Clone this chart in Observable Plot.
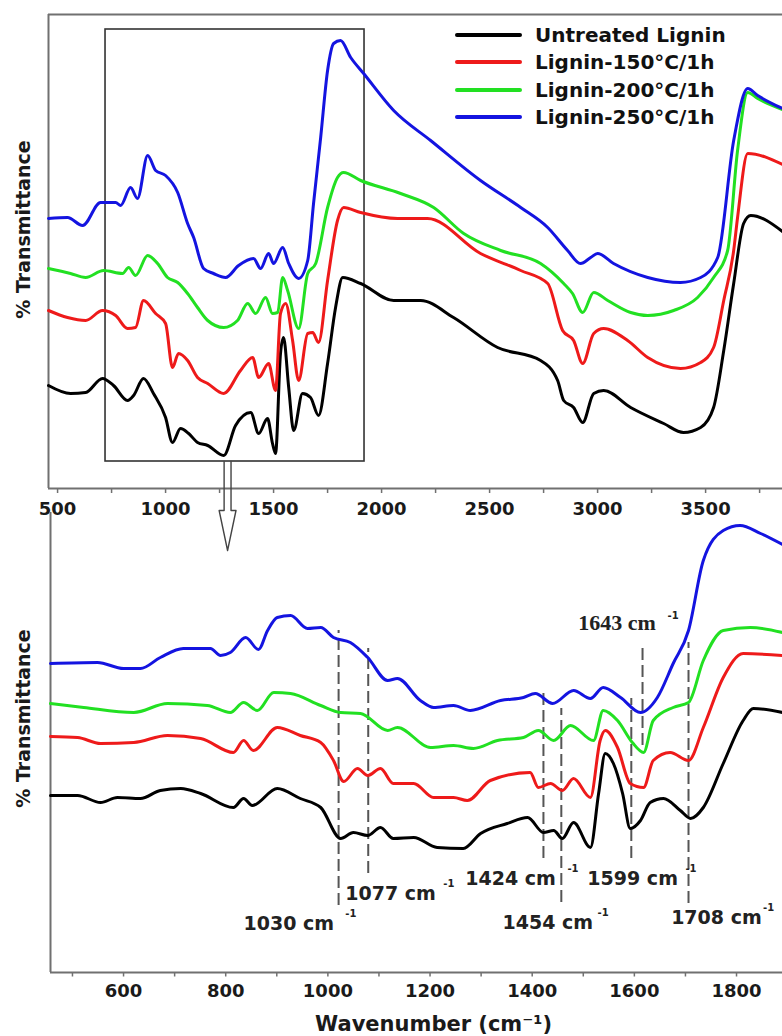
<!DOCTYPE html>
<html><head><meta charset="utf-8">
<script src="https://cdn.jsdelivr.net/npm/d3@7"></script>
<script src="https://cdn.jsdelivr.net/npm/@observablehq/plot@0.6"></script>
<style>
html,body{margin:0;padding:0;background:#fff;overflow:hidden;}
#fig{position:relative;width:782px;height:1036px;font-family:"DejaVu Sans",sans-serif;background:#fff;}
#fig svg{position:absolute;left:0;}
.row{position:absolute;left:455px;height:28px;display:flex;align-items:center;white-space:nowrap;}
.swatch{width:67px;height:4px;margin-right:13px;border-radius:2px;}
.lab{font-weight:bold;font-size:20px;color:#111;}
</style></head><body><div id="fig"></div>
<script>
// ---- series names / colours
const seriesNames = ["Untreated Lignin", "Lignin-150°C/1h", "Lignin-200°C/1h", "Lignin-250°C/1h"];
const seriesColors = ["#000000", "#ee1a1a", "#22e022", "#1414e0"];

// ---- top panel spectra: [wavenumber, transmittance (a.u.)]
const topUntreated = [[458,20.6],[560,19],[630,19.2],[708,22],[759,20.6],[824,17.6],[852,18.6],[898,22],[944,19],[1000,14.2],[1032,9.2],[1069,12],[1107,11],[1148,9.2],[1195,8.6],[1269,6.6],[1324,12.6],[1394,15.2],[1431,11],[1472,14],[1495,9],[1509,7],[1532,27],[1546,30.2],[1570,20.2],[1593,11.6],[1634,19],[1671,18.2],[1708,14.6],[1750,25],[1787,36.2],[1820,42.2],[1903,41],[2056,37.6],[2181,37.6],[2333,34.2],[2537,28.2],[2736,25.6],[2815,21.6],[2843,17.6],[2889,16.2],[2931,13.2],[2982,19],[3028,19.6],[3153,16.2],[3306,13],[3398,11.2],[3477,12.2],[3537,16.2],[3584,27.6],[3630,41],[3676,53],[3709,54.6],[3856,51.4]];
const top150 = [[458,35.6],[546,34.2],[630,33.6],[708,35.6],[769,34.6],[824,32],[861,32.2],[898,37.6],[954,35],[1000,33],[1032,24.2],[1060,27],[1102,25.6],[1148,22.2],[1195,21],[1269,19],[1347,23.6],[1403,26.2],[1431,22.2],[1477,25],[1509,19.6],[1532,35],[1556,37],[1588,29.6],[1616,21.6],[1658,31],[1681,31.2],[1708,29.2],[1750,41.6],[1796,53.6],[1824,56.2],[1903,55.2],[2074,54],[2213,54],[2458,47],[2644,43.6],[2769,41],[2838,31.6],[2889,29.6],[2931,25],[2982,31],[3028,32],[3139,29.6],[3232,26.2],[3384,24],[3477,25.2],[3537,28.2],[3584,37.6],[3630,47.6],[3648,54.2],[3695,67],[3856,64.8]];
const top200 = [[458,44],[560,43],[630,42.2],[713,43.6],[801,43],[829,44.2],[861,42.6],[917,46.6],[963,45],[1009,42.2],[1056,41.2],[1102,39],[1148,36.2],[1195,33.6],[1269,32.2],[1333,33.6],[1380,37],[1417,35],[1463,38.2],[1495,35],[1519,35.2],[1542,42.2],[1565,39.6],[1616,32],[1658,43],[1695,45],[1750,56.2],[1796,62.2],[1824,63.2],[1903,61.6],[2088,59],[2241,56.2],[2380,51],[2551,47.6],[2736,45],[2843,41],[2884,39],[2931,35.2],[2982,39.2],[3047,37.6],[3153,35.2],[3232,34.6],[3352,35.6],[3463,38.2],[3537,42.2],[3602,47.6],[3648,67.6],[3695,79.2],[3741,78],[3856,75.8]];
const top250 = [[458,54],[546,54.2],[616,52.6],[699,57.2],[769,57.2],[792,56.6],[838,60.2],[870,58],[917,66.6],[954,63.6],[1000,62.6],[1056,59.2],[1102,53],[1130,50.2],[1176,44],[1222,43],[1278,42.2],[1338,44.6],[1407,46],[1440,44],[1477,47],[1500,45],[1542,48.2],[1570,45],[1616,42],[1658,45.6],[1685,57],[1718,70.2],[1750,83.6],[1778,89],[1810,89.6],[1857,86.2],[1917,83],[2056,75.6],[2227,69.6],[2458,61.6],[2644,56.2],[2769,52.2],[2861,47.6],[2921,45],[2968,46.2],[3000,47],[3074,45],[3232,42.2],[3384,41.2],[3477,42.2],[3556,46.2],[3630,69.6],[3695,80],[3741,78.6],[3856,76]];

// ---- bottom panel (zoomed) spectra
const botUntreated = [[457,35.4],[510,35.4],[555,34],[588,35],[633,34.8],[672,36.4],[712,36.8],[751,35.8],[815,33],[835,34.8],[852,33.4],[901,36.8],[946,34.8],[986,33],[1025,26.8],[1050,28],[1078,27.4],[1103,29],[1128,26.8],[1168,27],[1214,25],[1265,24.8],[1299,27.8],[1351,29.8],[1391,31],[1422,28],[1442,28.4],[1459,26.8],[1481,30],[1514,25],[1530,35.8],[1543,43.8],[1559,41.8],[1577,35.8],[1592,28.8],[1612,30.4],[1631,34],[1657,34.8],[1690,32.4],[1710,30.8],[1735,33],[1774,41.8],[1813,50.4],[1833,52.8],[1890,52]];
const bot150 = [[457,47.2],[510,47],[555,45.8],[620,46],[686,47.4],[751,46.8],[815,44],[835,46.4],[854,44.4],[901,49],[946,47.4],[986,46],[1011,42.4],[1031,38.2],[1058,40.8],[1078,39.4],[1103,40.8],[1128,37.8],[1168,37.8],[1207,35],[1246,35],[1273,34.4],[1318,38.4],[1396,40],[1412,37],[1436,37.8],[1459,36.4],[1481,38.8],[1514,35],[1533,46.4],[1543,48.4],[1567,45],[1592,37.8],[1618,37],[1637,42.4],[1670,44],[1706,42.4],[1735,49],[1774,59],[1813,63.8],[1890,63.4]];
const bot200 = [[457,53.8],[522,53],[620,52],[686,53.8],[764,53.4],[809,52],[835,54],[862,52.4],[894,56],[927,55.8],[986,53.4],[1025,52],[1064,51.8],[1117,48.4],[1136,49],[1201,45],[1246,45.4],[1285,44.8],[1332,46.4],[1383,47],[1412,48.4],[1442,46.4],[1475,49.4],[1520,46.4],[1539,52.4],[1567,50.4],[1596,46],[1618,44],[1637,50.4],[1676,53],[1706,54],[1735,62.4],[1774,68.4],[1827,69],[1890,68]];
const bot250 = [[457,61.8],[549,62],[600,60.8],[633,60.8],[672,63],[717,64.8],[770,64.8],[790,63.4],[809,64],[839,67],[864,64.6],[882,68.4],[901,71],[927,71.4],[960,68.8],[986,69],[1011,67],[1044,66],[1078,63],[1117,58.4],[1136,58.8],[1181,54.4],[1207,53],[1246,53.4],[1279,52.4],[1338,54.4],[1383,55],[1406,55.8],[1440,53.8],[1481,56.4],[1514,54.8],[1539,57],[1573,55],[1612,52],[1645,55],[1676,61.8],[1706,68.4],[1735,82.4],[1774,88.4],[1807,89.4],[1847,87.8],[1890,85.6]];

// ---- axes ticks
const topMajorTicks = [500, 1000, 1500, 2000, 2500, 3000, 3500];
const topMinorTicks = [750, 1250, 1750, 2250, 2750, 3250, 3750];
const botLabelTicks = [600, 800, 1000, 1200, 1400, 1600, 1800];
const botAllTicks = [500, 600, 700, 800, 900, 1000, 1100, 1200, 1300, 1400, 1500, 1600, 1700, 1800];

// ---- zoom box + arrow (top panel data units)
const zoomBox = [{x1: 722, x2: 1921, y1: 5.4, y2: 91.8}];
const arrowX = [1271, 1271, 1248, 1287, 1326, 1303, 1303];
const arrowY = [5.4, -4.4, -4.4, -12.4, -4.4, -4.4, 5.4];

// ---- band markers (bottom panel)
const bandLineWn = [1021, 1079, 1422, 1457, 1594, 1616, 1706];
const bandLineTop = [68.4, 64.8, 56.8, 52.8, 54.8, 65.8, 66];
const bandLineBottom = [13.4, 19.8, 22.8, 14, 22.8, 45.4, 13.8];
const bandLabels = ["1030 cm", "1077 cm", "1424 cm", "1454 cm", "1599 cm", "1643 cm", "1708 cm"];
const bandLabelX = [835, 1034, 1269, 1342, 1508, 1490, 1672];
const bandLabelY = [9.8, 15.8, 18.8, 10, 18.8, 70, 11];
const bandSupX = [1034, 1226, 1469, 1528, 1700, 1665, 1852];
const bandSupY = [11.8, 17.8, 20.8, 12, 20.8, 71.4, 13];
const bandSerif = [false, false, false, false, false, true, false];

// ---- build tables
function table(arrs) {
  return arrs.flatMap((a, i) => a.map(([wn, t]) => ({wn, t, series: seriesNames[i]})));
}
const topData = table([topUntreated, top150, top200, top250]);
const botData = table([botUntreated, bot150, bot200, bot250]);
const arrow = arrowX.map((x, i) => ({x, y: arrowY[i]}));
const bands = bandLineWn.map((wn, i) => ({
  wn, top: bandLineTop[i], bottom: bandLineBottom[i],
  label: bandLabels[i], lx: bandLabelX[i], ly: bandLabelY[i],
  sx: bandSupX[i], sy: bandSupY[i], serif: bandSerif[i]
}));
const color = {domain: seriesNames, range: seriesColors};
const axisGray = "#707070";

const topPlot = Plot.plot({
  width: 782, height: 560,
  marginLeft: 48, marginRight: 0, marginTop: 14, marginBottom: 72,
  style: {background: "transparent", overflow: "visible", fontFamily: "DejaVu Sans", fontWeight: "bold", fontSize: "18px"},
  x: {domain: [458, 3856]},
  y: {domain: [0, 94.8], axis: null},
  color,
  marks: [
    Plot.ruleY([94.8], {stroke: axisGray, strokeWidth: 2}),
    Plot.ruleY([0], {stroke: axisGray, strokeWidth: 2}),
    Plot.ruleX([458], {y1: 0, y2: 94.8, stroke: axisGray, strokeWidth: 2}),
    Plot.ruleX(topMajorTicks.concat(topMinorTicks), {x: d => d, y1: 0, y2: -1, stroke: axisGray, strokeWidth: 1.5}),
    Plot.axisX({ticks: topMajorTicks, tickSize: 0, tickPadding: 14, fontSize: 18, fontWeight: "bold", fill: "#1a1a1a", tickFormat: d => String(d)}),
    Plot.rect(zoomBox, {x1: "x1", x2: "x2", y1: "y1", y2: "y2", fill: "none", stroke: "#333", strokeWidth: 1.6}),
    Plot.line(arrow, {x: "x", y: "y", stroke: "#444", strokeWidth: 1.4, fill: "none"}),
    Plot.line(topData, {x: "wn", y: "t", z: "series", stroke: "series", strokeWidth: 3, strokeLinejoin: "round", curve: "monotone-x"}),
    Plot.text(["% Transmittance"], {x: () => 343, y: () => 51.8, rotate: -90, fontSize: 19, fontWeight: "bold", fill: "#1a1a1a"})
  ]
});
topPlot.style.top = "0px";

const botPlot = Plot.plot({
  width: 782, height: 536,
  marginLeft: 50, marginRight: 0, marginTop: 12, marginBottom: 64,
  style: {background: "transparent", overflow: "visible", fontFamily: "DejaVu Sans", fontWeight: "bold", fontSize: "18px"},
  x: {domain: [457, 1890]},
  y: {domain: [0, 92], axis: null},
  color,
  marks: [
    Plot.ruleY([0], {stroke: axisGray, strokeWidth: 2}),
    Plot.ruleX([457], {y1: 0, y2: 92, stroke: axisGray, strokeWidth: 2}),
    Plot.ruleX(botAllTicks, {x: d => d, y1: 0, y2: -0.9, stroke: axisGray, strokeWidth: 1.5}),
    Plot.axisX({ticks: botLabelTicks, tickSize: 0, tickPadding: 12, fontSize: 18, fontWeight: "bold", fill: "#1a1a1a", tickFormat: d => String(d)}),
    Plot.ruleX(bands, {x: "wn", y1: "bottom", y2: "top", stroke: "#555", strokeWidth: 2, strokeDasharray: "12,5"}),
    Plot.line(botData, {x: "wn", y: "t", z: "series", stroke: "series", strokeWidth: 3, strokeLinejoin: "round", curve: "monotone-x"}),
    Plot.text(bands.filter(d => !d.serif), {x: "lx", y: "ly", text: "label", textAnchor: "start", fontSize: 19, fontWeight: "bold", fill: "#222"}),
    Plot.text(bands.filter(d => d.serif), {x: "lx", y: "ly", text: "label", textAnchor: "start", fontSize: 22, fontWeight: "bold", fontFamily: "Liberation Serif", fill: "#222"}),
    Plot.text(bands, {x: "sx", y: "sy", text: () => "-1", textAnchor: "start", fontSize: 10, fontWeight: "bold", fill: "#222"}),
    Plot.text(["% Transmittance"], {x: () => 404, y: () => 50.8, rotate: -90, fontSize: 19, fontWeight: "bold", fill: "#1a1a1a"}),
    Plot.text(["Wavenumber (cm⁻¹)"], {x: () => 1207, y: () => -10.4, fontSize: 21, fontWeight: "bold", fill: "#1a1a1a"})
  ]
});
botPlot.style.top = "500px";

const fig = document.getElementById("fig");
fig.appendChild(topPlot);
fig.appendChild(botPlot);

// legend (HTML, above the top panel)
const legendRowCenters = [35, 62, 90, 117];
seriesNames.forEach((name, i) => {
  const row = document.createElement("div");
  row.className = "row";
  row.style.top = (legendRowCenters[i] - 14) + "px";
  const sw = document.createElement("div");
  sw.className = "swatch";
  sw.style.background = seriesColors[i];
  const lab = document.createElement("span");
  lab.className = "lab";
  lab.textContent = name;
  row.appendChild(sw); row.appendChild(lab);
  fig.appendChild(row);
});
</script>
</body></html>
